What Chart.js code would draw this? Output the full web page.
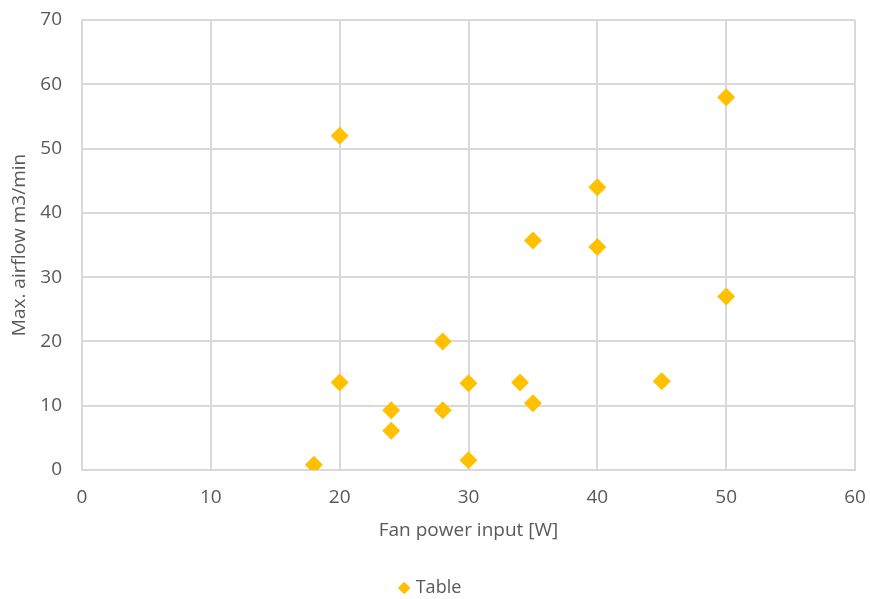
<!DOCTYPE html>
<html>
<head>
  <title>Fan power vs airflow</title>
  <script src="https://cdn.jsdelivr.net/npm/chart.js"></script>
  <style>
    html, body { margin: 0; padding: 0; background: #fff; }
    .wrap { width: 870px; height: 599px; }
  </style>
</head>
<body>
  <div class="wrap"><canvas id="scatter" width="870" height="599"></canvas></div>
<script>
  // fan power input [W]
  const power = [18, 20, 20, 24, 24, 28, 28, 30, 30, 34, 35, 35, 40, 40, 45, 50, 50];
  // max. airflow m3/min
  const airflow = [0.8, 52, 13.6, 9.3, 6.1, 20, 9.3, 13.5, 1.5, 13.6, 35.7, 10.4, 44, 34.7, 13.8, 58, 27];
  const seriesName = 'Table';

  const points = power.map((p, i) => ({ x: p, y: airflow[i] }));
  const gold = '#FFC000';
  const grey = '#595959';
  const gridCol = '#d9d9d9';
  const fontFam = "'Open Sans', 'Noto Sans', sans-serif";

  const ctx = document.getElementById('scatter').getContext('2d');
  new Chart(ctx, {
    type: 'scatter',
    data: {
      datasets: [{
        label: seriesName,
        data: points,
        pointStyle: 'rectRot',
        pointRadius: 9,
        pointHoverRadius: 9,
        backgroundColor: gold,
        borderColor: gold,
        borderWidth: 0
      }]
    },
    options: {
      responsive: false,
      animation: false,
      layout: { padding: { left: 8, right: 15, top: 20, bottom: -8 } },
      plugins: {
        legend: {
          position: 'bottom',
          labels: {
            usePointStyle: true,
            pointStyle: 'rectRot',
            boxWidth: 5,
            boxHeight: 9,
            color: grey,
            font: { family: fontFam, size: 18 },
            padding: 3
          }
        },
        tooltip: { enabled: false }
      },
      scales: {
        x: {
          type: 'linear',
          min: 0,
          max: 60,
          ticks: { stepSize: 10, color: grey, font: { family: fontFam, size: 19 }, padding: 16 },
          grid: { color: gridCol, lineWidth: 2, drawTicks: false },
          border: { color: gridCol, width: 2 },
          title: { display: true, text: 'Fan power input [W]', color: grey, font: { family: fontFam, size: 19 }, padding: { top: 4, bottom: 34 } },
          afterFit: (scale) => {
            scale.height = 106;
            scale.paddingLeft = 0;
            scale.paddingRight = 0;
          }
        },
        y: {
          min: 0,
          max: 70,
          ticks: { stepSize: 10, color: grey, font: { family: fontFam, size: 19 }, padding: 20 },
          grid: { color: gridCol, lineWidth: 2, drawTicks: false },
          border: { color: gridCol, width: 2 },
          title: { display: true, text: 'Max. airflow m3/min', color: grey, font: { family: fontFam, size: 19 }, padding: { top: 0, bottom: 10 } },
          afterFit: (scale) => {
            scale.width = 74;
            scale.paddingTop = 0;
            scale.paddingBottom = 0;
          }
        }
      }
    }
  });
</script>
</body>
</html>
